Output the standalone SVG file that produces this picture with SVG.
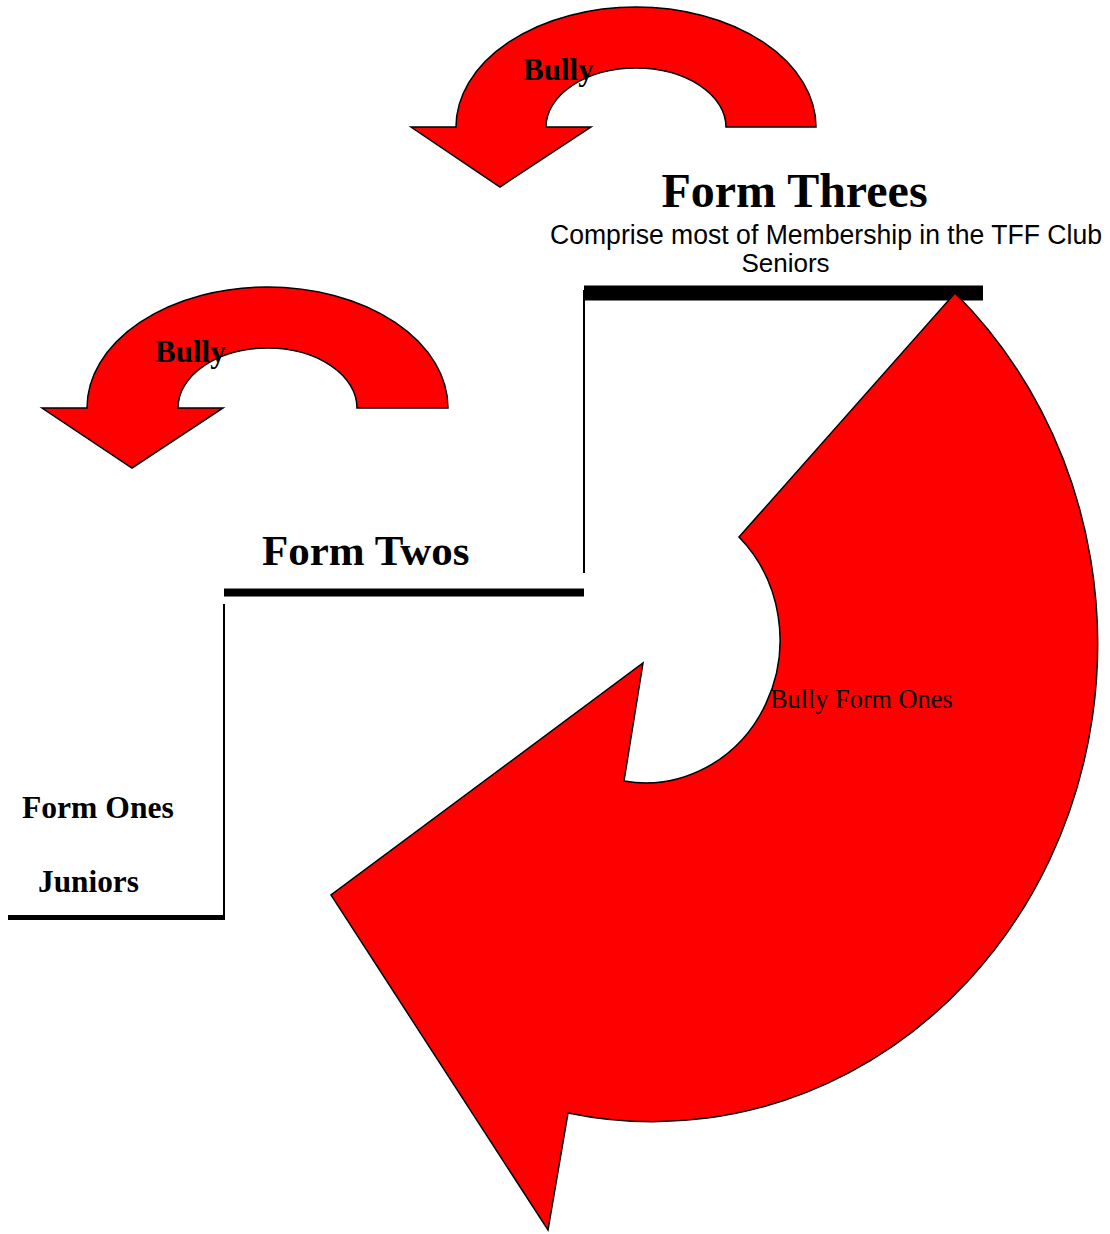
<svg xmlns="http://www.w3.org/2000/svg" width="1110" height="1234" viewBox="0 0 1110 1234">
<style>
.arrow{fill:#ff0000;stroke:#000;stroke-width:1.5;stroke-linejoin:miter}
.bar{stroke:#000;fill:none}
.tb{font-family:"Liberation Serif","Times New Roman",serif;font-weight:bold;fill:#000}
.tr{font-family:"Liberation Serif","Times New Roman",serif;fill:#000}
.ts{font-family:"Liberation Sans",Arial,sans-serif;fill:#000}
</style>
<rect width="1110" height="1234" fill="#fff"/>
<g id="connectors">
<line class="bar" x1="584" y1="293" x2="983" y2="293" stroke-width="15"/>
<line class="bar" x1="584" y1="290" x2="584" y2="573" stroke-width="2"/>
<line class="bar" x1="224" y1="592.5" x2="584" y2="592.5" stroke-width="8"/>
<line class="bar" x1="224" y1="604" x2="224" y2="918" stroke-width="2"/>
<line class="bar" x1="8" y1="917.5" x2="225" y2="917.5" stroke-width="5"/>
</g>
<g id="bully-top">
<path class="arrow" d="M 816 127 A 180 120 0 0 0 456 127 L 411 127 L 500 187 L 591 127 L 546 127 A 90 59 0 0 1 726 127 Z"/>
<text class="tb" x="523" y="80" font-size="31">Bully</text>
</g>
<g id="bully-left">
<path class="arrow" d="M 448 408 A 180.5 121 0 0 0 87 408 L 42 408 L 132 468 L 223 408 L 178 408 A 89.5 60 0 0 1 357 408 Z"/>
<text class="tb" x="155" y="362" font-size="31">Bully</text>
</g>
<g id="bully-form-ones">
<path class="arrow" d="M 955 293 A 445 478 0 0 1 568 1113 L 548 1230 L 331 895 L 643 663 L 624 781 A 134.5 143 0 0 0 739 537 Z"/>
<text class="tr" x="770" y="708" font-size="26.3">Bully Form Ones</text>
</g>
<g id="form-threes">
<text class="tb" x="794.5" y="207" font-size="48" text-anchor="middle">Form Threes</text>
<text class="ts" x="550" y="244" font-size="27" textLength="552" lengthAdjust="spacingAndGlyphs">Comprise most of Membership in the TFF Club</text>
<text class="ts" x="785.5" y="272" font-size="26" text-anchor="middle">Seniors</text>
</g>
<g id="form-twos">
<text class="tb" x="262" y="565" font-size="43">Form Twos</text>
</g>
<g id="form-ones">
<text class="tb" x="22" y="818" font-size="31.6">Form Ones</text>
<text class="tb" x="38" y="892" font-size="31.3">Juniors</text>
</g>
</svg>
